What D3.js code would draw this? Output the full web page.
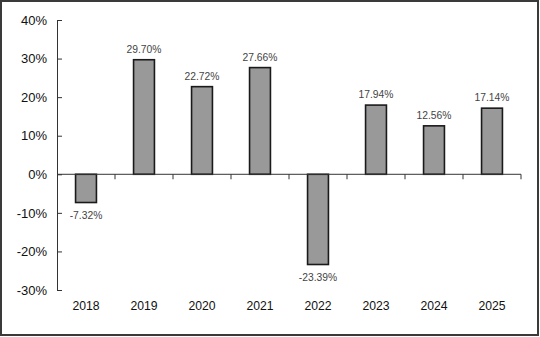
<!DOCTYPE html>
<html>
<head>
<meta charset="utf-8">
<script src="https://cdn.jsdelivr.net/npm/d3@7"></script>
<style>
  html, body { margin: 0; padding: 0; background: #fff; }
  svg { display: block; }
</style>
</head>
<body>
<svg id="chart" width="540" height="337"></svg>
<script>
// Annual returns by year
const years = ["2018", "2019", "2020", "2021", "2022", "2023", "2024", "2025"];
const returns = [-7.32, 29.70, 22.72, 27.66, -23.39, 17.94, 12.56, 17.14];
const yTicks = [40, 30, 20, 10, 0, -10, -20, -30];

const svg = d3.select("#chart");
const W = 540, H = 337;
const margin = { left: 57, right: 19, top: 20, bottom: 47 };

// frame around the whole chart
svg.append("rect")
  .attr("x", 1).attr("y", 1)
  .attr("width", W - 3).attr("height", H - 3)
  .attr("fill", "#fff")
  .attr("stroke", "#3a3a3a")
  .attr("stroke-width", 2);

const x = d3.scaleBand()
  .domain(years)
  .range([margin.left, W - margin.right])
  .paddingInner(0)
  .paddingOuter(0);

const y = d3.scaleLinear()
  .domain([-30, 40])
  .range([H - margin.bottom, margin.top]);

// y axis with inward ticks
const yAxis = d3.axisLeft(y)
  .tickValues(yTicks)
  .tickSize(-5)
  .tickPadding(10)
  .tickFormat(d => d + "%");

const gy = svg.append("g")
  .attr("transform", `translate(${margin.left},0)`)
  .call(yAxis);
gy.select(".domain").attr("stroke", "#333").attr("stroke-width", 1);
gy.selectAll(".tick line").attr("stroke", "#333");
gy.selectAll(".tick text")
  .attr("font-family", "Liberation Sans, Arial, sans-serif")
  .attr("font-size", 13)
  .attr("fill", "#111");

// bars
const barW = x.bandwidth() * 0.36;
svg.append("g").selectAll("rect")
  .data(returns)
  .join("rect")
  .attr("x", (d, i) => x(years[i]) + (x.bandwidth() - barW) / 2)
  .attr("y", d => y(Math.max(0, d)))
  .attr("width", barW)
  .attr("height", d => Math.abs(y(d) - y(0)))
  .attr("fill", "#999999")
  .attr("stroke", "#1a1a1a")
  .attr("stroke-width", 1.6);

// zero line with category separators
svg.append("line")
  .attr("x1", margin.left).attr("x2", W - margin.right)
  .attr("y1", y(0)).attr("y2", y(0))
  .attr("stroke", "#333").attr("stroke-width", 1);

svg.append("g").selectAll("line")
  .data(years.slice(1).concat(["end"]))
  .join("line")
  .attr("x1", (d, i) => x(years[0]) + x.bandwidth() * (i + 1))
  .attr("x2", (d, i) => x(years[0]) + x.bandwidth() * (i + 1))
  .attr("y1", y(0)).attr("y2", y(0) + 5)
  .attr("stroke", "#333");

// value labels
svg.append("g").selectAll("text")
  .data(returns)
  .join("text")
  .attr("x", (d, i) => x(years[i]) + x.bandwidth() / 2)
  .attr("y", d => d >= 0 ? y(d) - 7 : y(d) + 16)
  .attr("text-anchor", "middle")
  .attr("font-family", "Liberation Sans, Arial, sans-serif")
  .attr("font-size", 10.3)
  .attr("fill", "#444")
  .text(d => d.toFixed(2) + "%");

// year labels
svg.append("g").selectAll("text")
  .data(years)
  .join("text")
  .attr("x", d => x(d) + x.bandwidth() / 2)
  .attr("y", 310)
  .attr("text-anchor", "middle")
  .attr("font-family", "Liberation Sans, Arial, sans-serif")
  .attr("font-size", 12.2)
  .attr("fill", "#111")
  .text(d => d);
</script>
</body>
</html>
